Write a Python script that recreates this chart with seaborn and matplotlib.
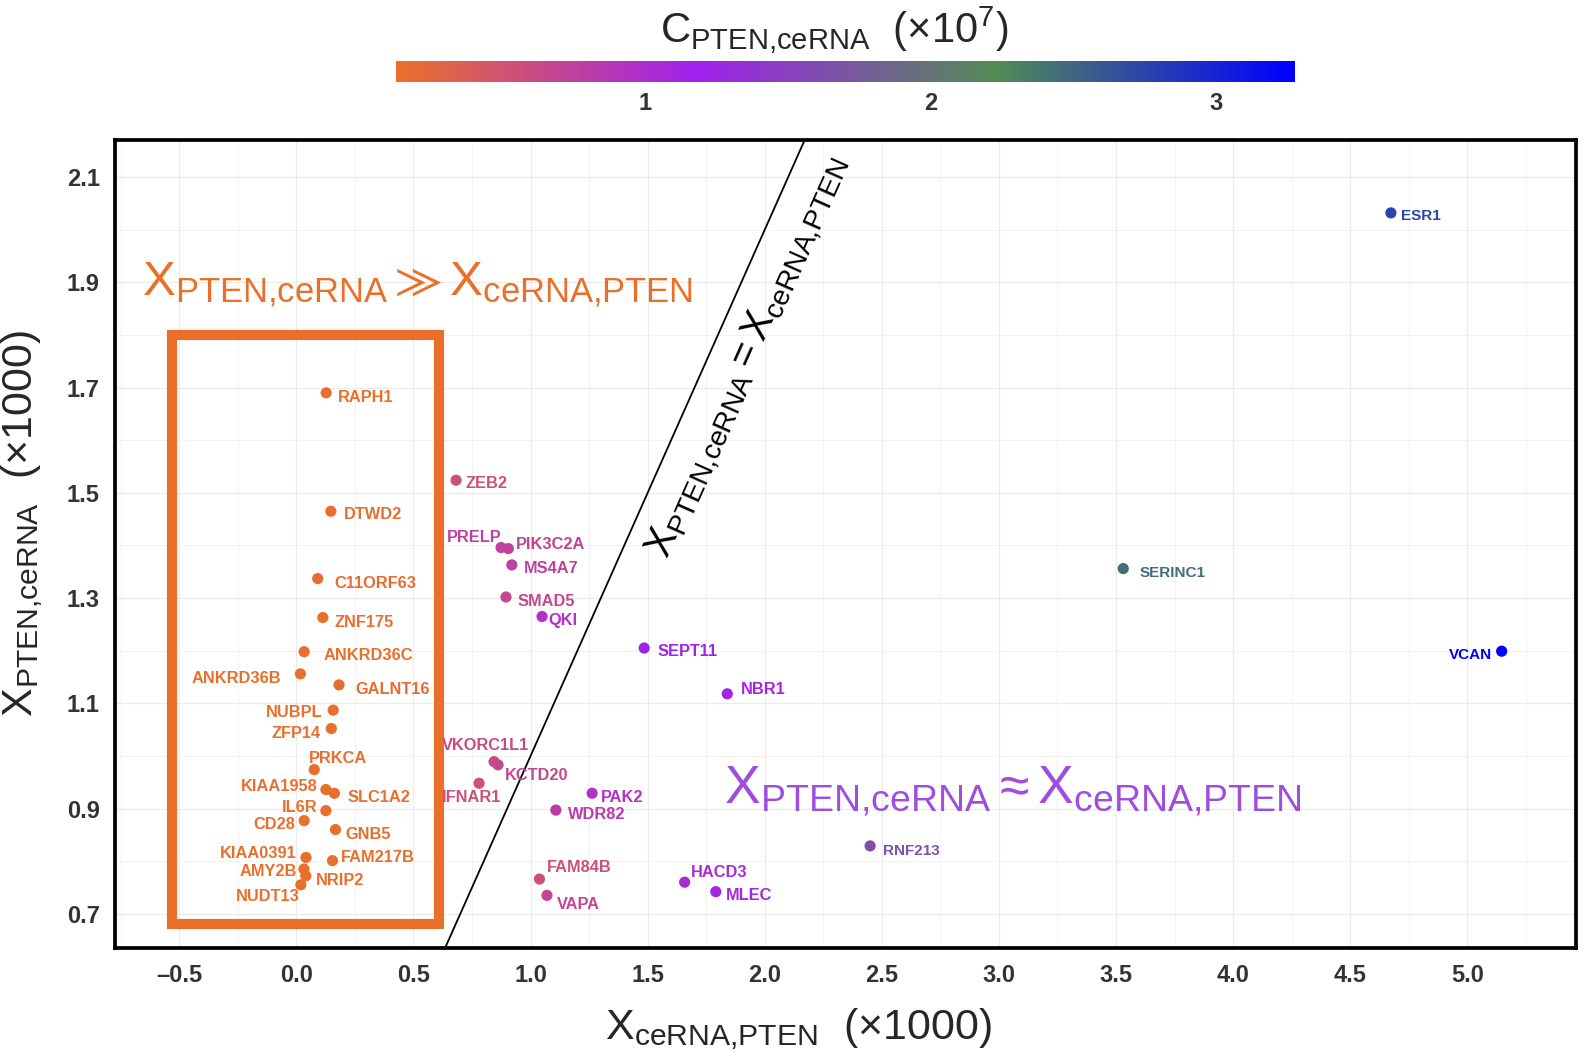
import numpy as np
import pandas as pd
import seaborn as sns
import matplotlib
matplotlib.use("Agg")
import matplotlib.pyplot as plt
from matplotlib.colors import LinearSegmentedColormap, Normalize
from matplotlib.cm import ScalarMappable
from matplotlib.patches import Rectangle
from matplotlib.ticker import MultipleLocator, FixedLocator, FuncFormatter

# data (x1000 for X, x1e7 for C)
genes = ["RAPH1", "DTWD2", "C11ORF63", "ZNF175", "ANKRD36C", "ANKRD36B", "GALNT16",
         "NUBPL", "ZFP14", "PRKCA", "KIAA1958", "SLC1A2", "IL6R", "CD28", "GNB5",
         "KIAA0391", "FAM217B", "AMY2B", "NRIP2", "NUDT13",
         "ZEB2", "PRELP", "PIK3C2A", "MS4A7", "SMAD5", "QKI", "SEPT11", "NBR1",
         "VKORC1L1", "KCTD20", "IFNAR1", "PAK2", "WDR82", "FAM84B", "VAPA",
         "HACD3", "MLEC", "RNF213", "SERINC1", "VCAN", "ESR1"]
x_cerna_pten = [0.127, 0.147, 0.091, 0.113, 0.033, 0.017, 0.182,
                0.157, 0.149, 0.076, 0.126, 0.162, 0.126, 0.033, 0.167,
                0.041, 0.154, 0.032, 0.040, 0.019,
                0.682, 0.874, 0.905, 0.920, 0.895, 1.049, 1.485, 1.840,
                0.844, 0.861, 0.780, 1.263, 1.108, 1.038, 1.070,
                1.658, 1.791, 2.450, 3.531, 5.147, 4.674]
x_pten_cerna = [1.690, 1.465, 1.337, 1.263, 1.198, 1.156, 1.135,
                1.087, 1.052, 0.974, 0.936, 0.929, 0.896, 0.877, 0.860,
                0.807, 0.801, 0.785, 0.772, 0.755,
                1.524, 1.396, 1.394, 1.363, 1.302, 1.265, 1.205, 1.118,
                0.989, 0.983, 0.948, 0.929, 0.897, 0.766, 0.735,
                0.760, 0.742, 0.829, 1.356, 1.199, 2.032]
c_pten_cerna = [0.15, 0.16, 0.18, 0.15, 0.14, 0.14, 0.17,
                0.15, 0.15, 0.16, 0.15, 0.16, 0.15, 0.14, 0.16,
                0.14, 0.15, 0.13, 0.14, 0.13,
                0.55, 0.76, 0.72, 0.75, 0.68, 0.95, 1.15, 1.12,
                0.62, 0.66, 0.55, 0.95, 0.82, 0.55, 0.70,
                1.05, 1.10, 1.65, 2.45, 3.278, 2.75]
c_limits = (0.127, 3.278)
cbar_ticks = [1, 2, 3]
x_ticks = np.arange(-0.5, 5.01, 0.5)
y_ticks = np.arange(0.7, 2.11, 0.2)
# box around the PTEN-dominant group
box_x = (-0.53, 0.61)
box_y = (0.68, 1.80)

# label nudges in pixels (dx, dy down, alignment)
nudge = {
    "RAPH1": (12, 3, "left"), "DTWD2": (13, 2, "left"), "C11ORF63": (17, 3, "left"),
    "ZNF175": (12, 3, "left"), "ANKRD36C": (19, 2, "left"), "ANKRD36B": (-19, 3, "right"),
    "GALNT16": (16, 3, "left"), "NUBPL": (-11, 1, "right"), "ZFP14": (-11, 3, "right"),
    "PRKCA": (-5, -13, "left"), "KIAA1958": (-8, -5, "right"), "SLC1A2": (13, 3, "left"),
    "IL6R": (-8, -5, "right"), "CD28": (-9, 2, "right"), "GNB5": (10, 3, "left"),
    "KIAA0391": (-9, -5, "right"), "FAM217B": (8, -5, "left"), "AMY2B": (-7, 1, "right"),
    "NRIP2": (10, 3, "left"), "NUDT13": (-1, 10, "right"),
    "ZEB2": (9, 2, "left"), "PRELP": (0, -12, "right"), "PIK3C2A": (8, -6, "left"),
    "MS4A7": (12, 2, "left"), "SMAD5": (12, 3, "left"), "QKI": (6, 3, "left"),
    "SEPT11": (13, 2, "left"), "NBR1": (14, -6, "left"), "VKORC1L1": (-9, -18, "center"),
    "KCTD20": (7, 9, "left"), "IFNAR1": (-7, 13, "center"), "PAK2": (9, 3, "left"),
    "WDR82": (12, 3, "left"), "FAM84B": (7, -13, "left"), "VAPA": (10, 8, "left"),
    "HACD3": (6, -11, "left"), "MLEC": (10, 2, "left"), "RNF213": (13, 4, "left"),
    "SERINC1": (16, 3, "left"), "VCAN": (-10, 2, "right"), "ESR1": (10, 2, "left"),
}

df = pd.DataFrame({"gene": genes, "x": x_cerna_pten, "y": x_pten_cerna, "c": c_pten_cerna})

sns.set_theme(style="white")
plt.rcParams["font.family"] = ["Liberation Sans", "DejaVu Sans"]
plt.rcParams["mathtext.fontset"] = "custom"
plt.rcParams["mathtext.rm"] = "Liberation Sans"
plt.rcParams["mathtext.it"] = "Liberation Sans"
plt.rcParams["mathtext.default"] = "regular"

X_PC = r"X_{\text{PTEN,ceRNA}}"
X_CP = r"X_{\text{ceRNA,PTEN}}"

cmap = LinearSegmentedColormap.from_list(
    "cerna", ["#EA702A", "#A020F0", "#548B54", "#0000FF"])
norm = Normalize(*c_limits)

fig = plt.figure(figsize=(15.94, 10.54), dpi=100)
ax = fig.add_axes([0.0721, 0.1001, 0.9164, 0.7668])

sns.scatterplot(data=df, x="x", y="y", hue="c", palette=cmap, hue_norm=norm,
                s=65, edgecolor="none", legend=False, ax=ax, zorder=4)

for _, r in df.iterrows():
    dx, dy, ha = nudge[r.gene]
    ax.annotate(r.gene, (r.x, r.y), xytext=(dx * 0.72, -dy * 0.72),
                textcoords="offset points", ha=ha, va="center_baseline",
                fontsize=11 if r.x > 2 else 11.8, fontweight="bold",
                color=cmap(norm(r.c)), zorder=5)

ax.set_xlim(-0.775, 5.463)
ax.set_ylim(0.634, 2.17)

# identity line
ax.axline((0, 0), slope=1, color="black", lw=1.3, zorder=3)
ax.add_patch(Rectangle((box_x[0], box_y[0]), box_x[1] - box_x[0], box_y[1] - box_y[0],
                       fill=False, edgecolor="#EA702A", lw=7.3, zorder=2))

ax.text(-0.659, 1.875, rf"${X_PC} \gg {X_CP}$", color="#EA702A",
        fontsize=35.5, ha="left", va="baseline")
ax.text(1.825, 0.911, rf"${X_PC} \approx {X_CP}$", color="#9F4DDF",
        fontsize=38.5, ha="left", va="baseline")
ax.text(1.93, 1.758, rf"${X_PC} = {X_CP}$", color="black",
        fontsize=29, rotation=45, transform_rotates_text=True,
        rotation_mode="anchor", ha="center", va="center")

ax.xaxis.set_major_locator(FixedLocator(x_ticks))
ax.yaxis.set_major_locator(FixedLocator(y_ticks))
ax.xaxis.set_minor_locator(MultipleLocator(0.25))
ax.yaxis.set_minor_locator(FixedLocator(np.arange(0.6, 2.21, 0.2)))
fmt = FuncFormatter(lambda v, p: f"{v:.1f}".replace("-", "\u2013"))
ax.xaxis.set_major_formatter(fmt)
ax.yaxis.set_major_formatter(fmt)
ax.grid(which="major", color="#EBEBEB", lw=0.9)
ax.grid(which="minor", color="#F2F2F2", lw=0.7)
ax.set_axisbelow(True)
ax.tick_params(which="major", length=5, width=1, color="#333333", labelsize=17,
               labelcolor="#333333", pad=6)
ax.tick_params(which="minor", length=0)
for lab in ax.get_xticklabels() + ax.get_yticklabels():
    lab.set_fontweight("bold")
for sp in ax.spines.values():
    sp.set_color("black")
    sp.set_linewidth(2.7)

ax.set_xlabel(rf"${X_CP}$  (×1000)", fontsize=31)
ax.set_ylabel(rf"${X_PC}$  (×1000)", fontsize=31)
ax.xaxis.set_label_coords(0.468, -0.071)
ax.yaxis.set_label_coords(-0.048, 0.526)

# colour bar on top
cax = fig.add_axes([0.2487, 0.9219, 0.5637, 0.0202])
cb = fig.colorbar(ScalarMappable(norm=norm, cmap=cmap), cax=cax, orientation="horizontal")
cb.outline.set_visible(False)
cb.set_ticks(cbar_ticks)
cax.tick_params(direction="in", length=5, width=1, color="white", top=True,
                bottom=True, labelsize=17, labelcolor="#333333", pad=7)
for lab in cax.get_xticklabels():
    lab.set_fontweight("bold")
fig.text(0.523, 0.9595, r"$C_{\text{PTEN,ceRNA}}$  (×10$^7$)", fontsize=30,
         ha="center", va="baseline")

fig.savefig("out.png", dpi=100)
